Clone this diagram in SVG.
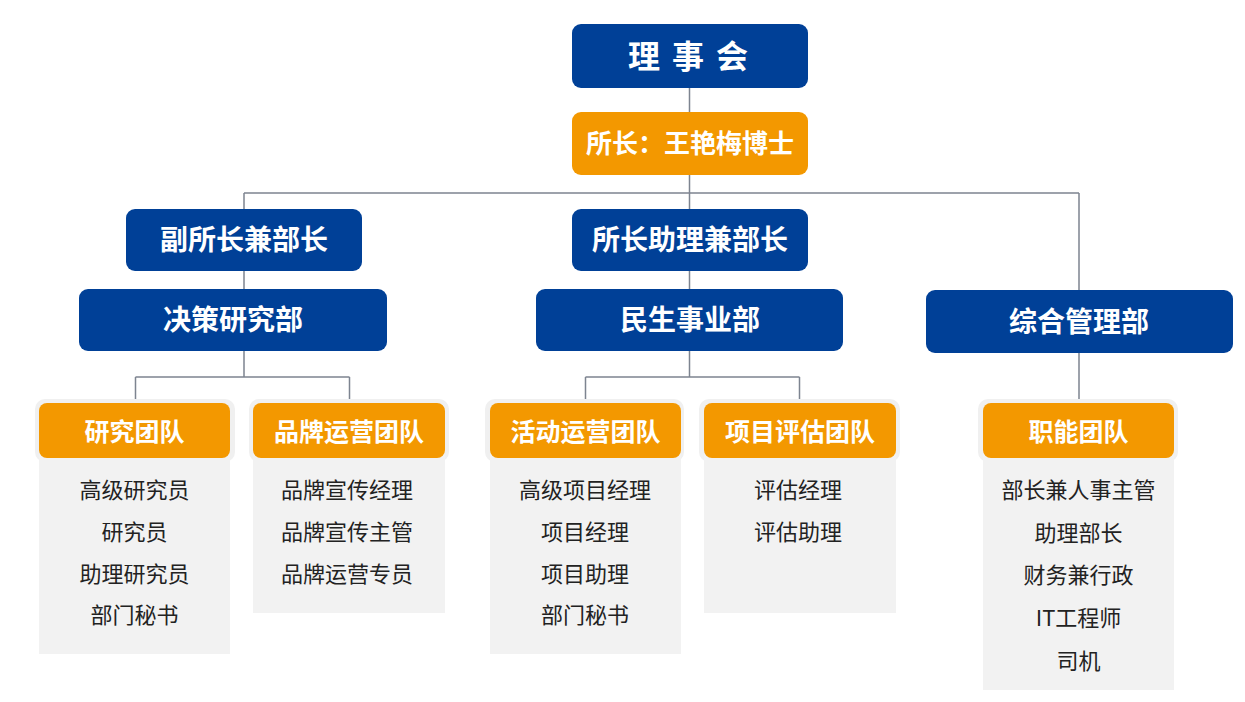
<svg xmlns="http://www.w3.org/2000/svg" width="1245" height="702" viewBox="0 0 1245 702">
<style>
.blue{fill:#004097}
.orange{fill:#F39800}
.glow{fill:#F0F0F0}
.body{fill:#F2F2F2}
.bt{font-family:"Noto Sans CJK SC","Noto Sans",sans-serif;font-weight:bold;fill:#fff;text-anchor:middle;dominant-baseline:central}
.t1{font-size:28px}
.t2{font-size:25px}
.it{font-family:"Noto Sans CJK SC","Noto Sans",sans-serif;font-size:22px;fill:#222;text-anchor:middle;dominant-baseline:central}
.ln{stroke:#7D8490;stroke-width:1.5;fill:none}
</style>
<rect width="1245" height="702" fill="#fff"/>
<g id="connectors">
<path class="ln" d="M689.5 88V290M244 193H1079M244 193V209M244 271V289M1079 193V290M244 351V377M135.5 377H349.5M135.5 377V399M349.5 377V399M689.5 351V377M585.5 377H799.5M585.5 377V399M799.5 377V399M1079 353V399"/>
</g>
<g id="board"><rect class="blue" x="572" y="24" width="236" height="64" rx="9"/><text class="bt" x="694" y="54" style="font-size:32px;letter-spacing:12px">理事会</text></g>
<g id="director"><rect class="orange" x="572" y="112" width="236" height="63" rx="9"/><text class="bt" x="690" y="141.5" style="font-size:26px">所长：王艳梅博士</text></g>
<g id="vice"><rect class="blue" x="126" y="209" width="236" height="62" rx="9"/><text class="bt t1" x="244" y="238">副所长兼部长</text></g>
<g id="assistant"><rect class="blue" x="572" y="209" width="236" height="62" rx="9"/><text class="bt t1" x="690" y="238">所长助理兼部长</text></g>
<g id="dept-research"><rect class="blue" x="79" y="289" width="308" height="62" rx="9"/><text class="bt t1" x="233" y="318">决策研究部</text></g>
<g id="dept-livelihood"><rect class="blue" x="536" y="289" width="307" height="62" rx="9"/><text class="bt t1" x="690" y="318">民生事业部</text></g>
<g id="dept-admin"><rect class="blue" x="926" y="290" width="307" height="63" rx="9"/><text class="bt t1" x="1079" y="319.5">综合管理部</text></g>

<g id="team-research">
<rect class="glow" x="35" y="399" width="200" height="63" rx="10"/>
<rect class="body" x="39" y="440" width="191" height="214"/>
<rect class="orange" x="39" y="403" width="191" height="55" rx="8"/>
<text class="bt t2" x="134.5" y="429.5">研究团队</text>
<text class="it" x="134.5" y="488">高级研究员</text>
<text class="it" x="134.5" y="530">研究员</text>
<text class="it" x="134.5" y="572">助理研究员</text>
<text class="it" x="134.5" y="613">部门秘书</text>
</g>
<g id="team-brand">
<rect class="glow" x="249" y="399" width="200" height="63" rx="10"/>
<rect class="body" x="253" y="440" width="192" height="173"/>
<rect class="orange" x="253" y="403" width="192" height="55" rx="8"/>
<text class="bt t2" x="349" y="429.5">品牌运营团队</text>
<text class="it" x="347" y="488">品牌宣传经理</text>
<text class="it" x="347" y="530">品牌宣传主管</text>
<text class="it" x="347" y="572">品牌运营专员</text>
</g>
<g id="team-activity">
<rect class="glow" x="485" y="399" width="199" height="63" rx="10"/>
<rect class="body" x="490" y="440" width="191" height="214"/>
<rect class="orange" x="490" y="403" width="191" height="55" rx="8"/>
<text class="bt t2" x="585.5" y="429.5">活动运营团队</text>
<text class="it" x="585" y="488">高级项目经理</text>
<text class="it" x="585" y="530">项目经理</text>
<text class="it" x="585" y="572">项目助理</text>
<text class="it" x="585" y="613">部门秘书</text>
</g>
<g id="team-eval">
<rect class="glow" x="699" y="399" width="201" height="63" rx="10"/>
<rect class="body" x="704" y="440" width="192" height="173"/>
<rect class="orange" x="704" y="403" width="192" height="55" rx="8"/>
<text class="bt t2" x="800" y="429.5">项目评估团队</text>
<text class="it" x="798" y="488">评估经理</text>
<text class="it" x="798" y="530">评估助理</text>
</g>
<g id="team-function">
<rect class="glow" x="978" y="399" width="200" height="63" rx="10"/>
<rect class="body" x="983" y="440" width="191" height="250"/>
<rect class="orange" x="983" y="403" width="191" height="55" rx="8"/>
<text class="bt t2" x="1078.5" y="429.5">职能团队</text>
<text class="it" x="1078.5" y="488">部长兼人事主管</text>
<text class="it" x="1078.5" y="530.5">助理部长</text>
<text class="it" x="1078.5" y="573">财务兼行政</text>
<text class="it" x="1078.5" y="616">IT工程师</text>
<text class="it" x="1078.5" y="659">司机</text>
</g>
</svg>
